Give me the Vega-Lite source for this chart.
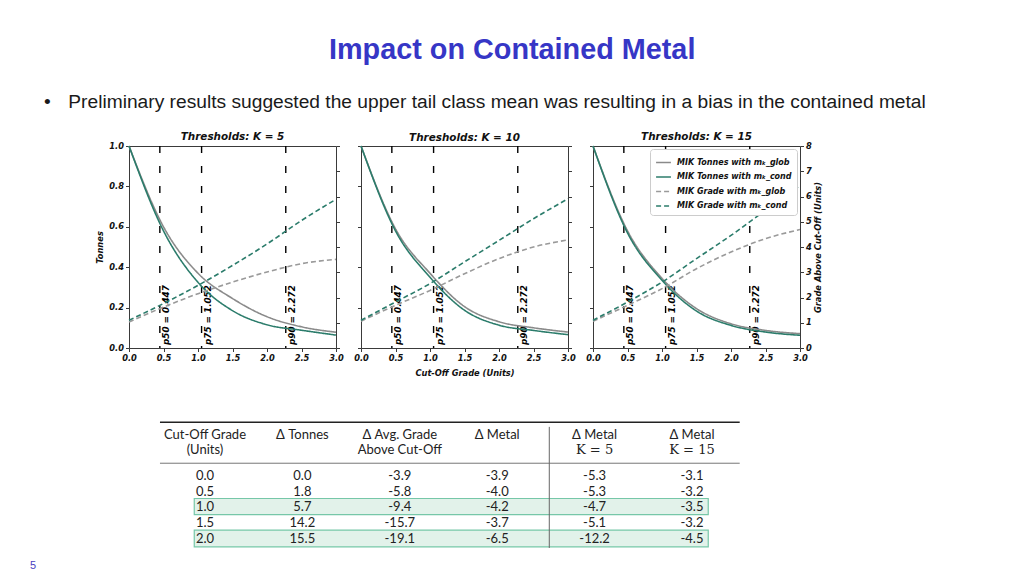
{
  "$schema": "https://vega.github.io/schema/vega-lite/v6.json",
  "autosize": {"type": "none"},
  "padding": {"left": 129, "top": 146, "right": 895, "bottom": 430},
  "background": "white",
  "title": {"text": "Impact on Contained Metal", "anchor": "start", "frame": "group", "dx": 200, "font": "Liberation Sans", "fontSize": 28.8, "fontWeight": "bold", "fontStyle": "normal", "color": "#3636c6", "offset": 28},
  "datasets": {
    "thr": [
      {"x": 0.447, "label": "p50 = 0.447"},
      {"x": 1.052, "label": "p75 = 1.052"},
      {"x": 2.272, "label": "p90 = 2.272"}
    ],
    "curves": [
      {"k": 5, "m": "Tonnes", "s": "MIK Tonnes with mₖ_glob", "x": 0, "v": 1.0},
      {"k": 5, "m": "Tonnes", "s": "MIK Tonnes with mₖ_glob", "x": 0.5, "v": 0.6},
      {"k": 5, "m": "Tonnes", "s": "MIK Tonnes with mₖ_glob", "x": 1.0, "v": 0.37},
      {"k": 5, "m": "Tonnes", "s": "MIK Tonnes with mₖ_glob", "x": 1.5, "v": 0.245},
      {"k": 5, "m": "Tonnes", "s": "MIK Tonnes with mₖ_glob", "x": 2.0, "v": 0.155},
      {"k": 5, "m": "Tonnes", "s": "MIK Tonnes with mₖ_glob", "x": 2.5, "v": 0.105},
      {"k": 5, "m": "Tonnes", "s": "MIK Tonnes with mₖ_glob", "x": 3.0, "v": 0.078},
      {"k": 5, "m": "Tonnes", "s": "MIK Tonnes with mₖ_cond", "x": 0, "v": 1.0},
      {"k": 5, "m": "Tonnes", "s": "MIK Tonnes with mₖ_cond", "x": 0.5, "v": 0.58},
      {"k": 5, "m": "Tonnes", "s": "MIK Tonnes with mₖ_cond", "x": 1.0, "v": 0.325},
      {"k": 5, "m": "Tonnes", "s": "MIK Tonnes with mₖ_cond", "x": 1.5, "v": 0.185},
      {"k": 5, "m": "Tonnes", "s": "MIK Tonnes with mₖ_cond", "x": 2.0, "v": 0.115},
      {"k": 5, "m": "Tonnes", "s": "MIK Tonnes with mₖ_cond", "x": 2.5, "v": 0.088},
      {"k": 5, "m": "Tonnes", "s": "MIK Tonnes with mₖ_cond", "x": 3.0, "v": 0.064},
      {"k": 5, "m": "Grade", "s": "MIK Grade with mₖ_glob", "x": 0, "v": 1.03},
      {"k": 5, "m": "Grade", "s": "MIK Grade with mₖ_glob", "x": 0.5, "v": 1.62},
      {"k": 5, "m": "Grade", "s": "MIK Grade with mₖ_glob", "x": 1.0, "v": 2.15},
      {"k": 5, "m": "Grade", "s": "MIK Grade with mₖ_glob", "x": 1.5, "v": 2.61},
      {"k": 5, "m": "Grade", "s": "MIK Grade with mₖ_glob", "x": 2.0, "v": 3.01},
      {"k": 5, "m": "Grade", "s": "MIK Grade with mₖ_glob", "x": 2.5, "v": 3.34},
      {"k": 5, "m": "Grade", "s": "MIK Grade with mₖ_glob", "x": 3.0, "v": 3.51},
      {"k": 5, "m": "Grade", "s": "MIK Grade with mₖ_cond", "x": 0, "v": 1.1},
      {"k": 5, "m": "Grade", "s": "MIK Grade with mₖ_cond", "x": 0.5, "v": 1.76},
      {"k": 5, "m": "Grade", "s": "MIK Grade with mₖ_cond", "x": 1.0, "v": 2.48},
      {"k": 5, "m": "Grade", "s": "MIK Grade with mₖ_cond", "x": 1.5, "v": 3.27},
      {"k": 5, "m": "Grade", "s": "MIK Grade with mₖ_cond", "x": 2.0, "v": 4.12},
      {"k": 5, "m": "Grade", "s": "MIK Grade with mₖ_cond", "x": 2.5, "v": 5.05},
      {"k": 5, "m": "Grade", "s": "MIK Grade with mₖ_cond", "x": 3.0, "v": 5.89},
      {"k": 10, "m": "Tonnes", "s": "MIK Tonnes with mₖ_glob", "x": 0, "v": 1.0},
      {"k": 10, "m": "Tonnes", "s": "MIK Tonnes with mₖ_glob", "x": 0.5, "v": 0.59},
      {"k": 10, "m": "Tonnes", "s": "MIK Tonnes with mₖ_glob", "x": 1.0, "v": 0.37},
      {"k": 10, "m": "Tonnes", "s": "MIK Tonnes with mₖ_glob", "x": 1.5, "v": 0.205},
      {"k": 10, "m": "Tonnes", "s": "MIK Tonnes with mₖ_glob", "x": 2.0, "v": 0.13},
      {"k": 10, "m": "Tonnes", "s": "MIK Tonnes with mₖ_glob", "x": 2.5, "v": 0.1},
      {"k": 10, "m": "Tonnes", "s": "MIK Tonnes with mₖ_glob", "x": 3.0, "v": 0.079},
      {"k": 10, "m": "Tonnes", "s": "MIK Tonnes with mₖ_cond", "x": 0, "v": 1.0},
      {"k": 10, "m": "Tonnes", "s": "MIK Tonnes with mₖ_cond", "x": 0.5, "v": 0.58},
      {"k": 10, "m": "Tonnes", "s": "MIK Tonnes with mₖ_cond", "x": 1.0, "v": 0.35},
      {"k": 10, "m": "Tonnes", "s": "MIK Tonnes with mₖ_cond", "x": 1.5, "v": 0.187},
      {"k": 10, "m": "Tonnes", "s": "MIK Tonnes with mₖ_cond", "x": 2.0, "v": 0.113},
      {"k": 10, "m": "Tonnes", "s": "MIK Tonnes with mₖ_cond", "x": 2.5, "v": 0.087},
      {"k": 10, "m": "Tonnes", "s": "MIK Tonnes with mₖ_cond", "x": 3.0, "v": 0.066},
      {"k": 10, "m": "Grade", "s": "MIK Grade with mₖ_glob", "x": 0, "v": 1.06},
      {"k": 10, "m": "Grade", "s": "MIK Grade with mₖ_glob", "x": 0.5, "v": 1.69},
      {"k": 10, "m": "Grade", "s": "MIK Grade with mₖ_glob", "x": 1.0, "v": 2.28},
      {"k": 10, "m": "Grade", "s": "MIK Grade with mₖ_glob", "x": 1.5, "v": 2.94},
      {"k": 10, "m": "Grade", "s": "MIK Grade with mₖ_glob", "x": 2.0, "v": 3.54},
      {"k": 10, "m": "Grade", "s": "MIK Grade with mₖ_glob", "x": 2.5, "v": 4.0},
      {"k": 10, "m": "Grade", "s": "MIK Grade with mₖ_glob", "x": 3.0, "v": 4.28},
      {"k": 10, "m": "Grade", "s": "MIK Grade with mₖ_cond", "x": 0, "v": 1.1},
      {"k": 10, "m": "Grade", "s": "MIK Grade with mₖ_cond", "x": 0.5, "v": 1.82},
      {"k": 10, "m": "Grade", "s": "MIK Grade with mₖ_cond", "x": 1.0, "v": 2.55},
      {"k": 10, "m": "Grade", "s": "MIK Grade with mₖ_cond", "x": 1.5, "v": 3.41},
      {"k": 10, "m": "Grade", "s": "MIK Grade with mₖ_cond", "x": 2.0, "v": 4.26},
      {"k": 10, "m": "Grade", "s": "MIK Grade with mₖ_cond", "x": 2.5, "v": 5.12},
      {"k": 10, "m": "Grade", "s": "MIK Grade with mₖ_cond", "x": 3.0, "v": 5.91},
      {"k": 15, "m": "Tonnes", "s": "MIK Tonnes with mₖ_glob", "x": 0, "v": 1.0},
      {"k": 15, "m": "Tonnes", "s": "MIK Tonnes with mₖ_glob", "x": 0.5, "v": 0.58},
      {"k": 15, "m": "Tonnes", "s": "MIK Tonnes with mₖ_glob", "x": 1.0, "v": 0.345},
      {"k": 15, "m": "Tonnes", "s": "MIK Tonnes with mₖ_glob", "x": 1.5, "v": 0.195},
      {"k": 15, "m": "Tonnes", "s": "MIK Tonnes with mₖ_glob", "x": 2.0, "v": 0.12},
      {"k": 15, "m": "Tonnes", "s": "MIK Tonnes with mₖ_glob", "x": 2.5, "v": 0.087},
      {"k": 15, "m": "Tonnes", "s": "MIK Tonnes with mₖ_glob", "x": 3.0, "v": 0.071},
      {"k": 15, "m": "Tonnes", "s": "MIK Tonnes with mₖ_cond", "x": 0, "v": 1.0},
      {"k": 15, "m": "Tonnes", "s": "MIK Tonnes with mₖ_cond", "x": 0.5, "v": 0.57},
      {"k": 15, "m": "Tonnes", "s": "MIK Tonnes with mₖ_cond", "x": 1.0, "v": 0.335},
      {"k": 15, "m": "Tonnes", "s": "MIK Tonnes with mₖ_cond", "x": 1.5, "v": 0.183},
      {"k": 15, "m": "Tonnes", "s": "MIK Tonnes with mₖ_cond", "x": 2.0, "v": 0.112},
      {"k": 15, "m": "Tonnes", "s": "MIK Tonnes with mₖ_cond", "x": 2.5, "v": 0.079},
      {"k": 15, "m": "Tonnes", "s": "MIK Tonnes with mₖ_cond", "x": 3.0, "v": 0.063},
      {"k": 15, "m": "Grade", "s": "MIK Grade with mₖ_glob", "x": 0, "v": 1.06},
      {"k": 15, "m": "Grade", "s": "MIK Grade with mₖ_glob", "x": 0.5, "v": 1.69},
      {"k": 15, "m": "Grade", "s": "MIK Grade with mₖ_glob", "x": 1.0, "v": 2.35},
      {"k": 15, "m": "Grade", "s": "MIK Grade with mₖ_glob", "x": 1.5, "v": 3.14},
      {"k": 15, "m": "Grade", "s": "MIK Grade with mₖ_glob", "x": 2.0, "v": 3.8},
      {"k": 15, "m": "Grade", "s": "MIK Grade with mₖ_glob", "x": 2.5, "v": 4.33},
      {"k": 15, "m": "Grade", "s": "MIK Grade with mₖ_glob", "x": 3.0, "v": 4.69},
      {"k": 15, "m": "Grade", "s": "MIK Grade with mₖ_cond", "x": 0, "v": 1.1},
      {"k": 15, "m": "Grade", "s": "MIK Grade with mₖ_cond", "x": 0.5, "v": 1.82},
      {"k": 15, "m": "Grade", "s": "MIK Grade with mₖ_cond", "x": 1.0, "v": 2.61},
      {"k": 15, "m": "Grade", "s": "MIK Grade with mₖ_cond", "x": 1.5, "v": 3.54},
      {"k": 15, "m": "Grade", "s": "MIK Grade with mₖ_cond", "x": 2.0, "v": 4.46},
      {"k": 15, "m": "Grade", "s": "MIK Grade with mₖ_cond", "x": 2.5, "v": 5.45},
      {"k": 15, "m": "Grade", "s": "MIK Grade with mₖ_cond", "x": 3.0, "v": 6.44}
    ],
    "thead": [
      {"col": 0, "line": 1, "text": "Cut-Off Grade"},
      {"col": 0, "line": 2, "text": "(Units)"},
      {"col": 1, "line": 1, "text": "Δ Tonnes"},
      {"col": 2, "line": 1, "text": "Δ Avg. Grade"},
      {"col": 2, "line": 2, "text": "Above Cut-Off"},
      {"col": 3, "line": 1, "text": "Δ Metal"},
      {"col": 4, "line": 1, "text": "Δ Metal"},
      {"col": 4, "line": 2, "text": "K = 5"},
      {"col": 5, "line": 1, "text": "Δ Metal"},
      {"col": 5, "line": 2, "text": "K = 15"}
    ],
    "tcells": [
      {"row": 0, "col": 0, "text": "0.0"}, {"row": 0, "col": 1, "text": "0.0"}, {"row": 0, "col": 2, "text": "-3.9"}, {"row": 0, "col": 3, "text": "-3.9"}, {"row": 0, "col": 4, "text": "-5.3"}, {"row": 0, "col": 5, "text": "-3.1"},
      {"row": 1, "col": 0, "text": "0.5"}, {"row": 1, "col": 1, "text": "1.8"}, {"row": 1, "col": 2, "text": "-5.8"}, {"row": 1, "col": 3, "text": "-4.0"}, {"row": 1, "col": 4, "text": "-5.3"}, {"row": 1, "col": 5, "text": "-3.2"},
      {"row": 2, "col": 0, "text": "1.0"}, {"row": 2, "col": 1, "text": "5.7"}, {"row": 2, "col": 2, "text": "-9.4"}, {"row": 2, "col": 3, "text": "-4.2"}, {"row": 2, "col": 4, "text": "-4.7"}, {"row": 2, "col": 5, "text": "-3.5"},
      {"row": 3, "col": 0, "text": "1.5"}, {"row": 3, "col": 1, "text": "14.2"}, {"row": 3, "col": 2, "text": "-15.7"}, {"row": 3, "col": 3, "text": "-3.7"}, {"row": 3, "col": 4, "text": "-5.1"}, {"row": 3, "col": 5, "text": "-3.2"},
      {"row": 4, "col": 0, "text": "2.0"}, {"row": 4, "col": 1, "text": "15.5"}, {"row": 4, "col": 2, "text": "-19.1"}, {"row": 4, "col": 3, "text": "-6.5"}, {"row": 4, "col": 4, "text": "-12.2"}, {"row": 4, "col": 5, "text": "-4.5"}
    ]
  },
  "bounds": "flush",
  "spacing": 274,
  "vconcat": [
    {
      "title": {"text": "•\u00a0\u00a0\u00a0\u200aPreliminary results suggested the upper tail class mean was resulting in a bias in the contained metal", "anchor": "start", "frame": "group", "dx": -85, "font": "Liberation Sans", "fontSize": 19.2, "fontWeight": "normal", "fontStyle": "normal", "color": "#1a1a1a", "offset": 19},
      "bounds": "flush",
      "spacing": 25,
      "resolve": {"scale": {"color": "independent", "strokeDash": "independent"}},
      "hconcat": [
        {
          "width": 207, "height": 202,
          "title": {"text": "Thresholds: K = 5"},
          "encoding": {"x": {"field": "x", "type": "quantitative", "scale": {"domain": [0, 3], "nice": false, "zero": false}, "axis": {"values": [0, 0.5, 1, 1.5, 2, 2.5, 3], "format": ".1f", "title": null, "labelFlush": false}}},
          "layer": [
            {"layer": [
              {"data": {"name": "thr"}, "mark": {"type": "rule", "color": "#000", "strokeWidth": 1.4, "strokeDash": [7, 13]}, "encoding": {}},
              {"data": {"name": "thr"}, "mark": {"type": "text", "angle": 270, "align": "left", "baseline": "top", "dx": 3, "dy": 2, "font": "DejaVu Sans", "fontStyle": "italic", "fontWeight": "bold", "fontSize": 8.8, "color": "#000"}, "encoding": {"y": {"datum": 0, "type": "quantitative"}, "text": {"field": "label"}}},
              {"data": {"name": "curves"}, "transform": [{"filter": "datum.k == 5 && datum.m == 'Tonnes'"}], "mark": {"type": "line", "strokeWidth": 1.6, "interpolate": "monotone"},
               "encoding": {
                 "y": {"field": "v", "type": "quantitative", "scale": {"domain": [0, 1], "nice": false}, "axis": {"values": [0, 0.2, 0.4, 0.6, 0.8, 1], "format": ".1f", "title": "Tonnes", "titlePadding": 4}},
                 "color": {"field": "s", "type": "nominal", "legend": null, "scale": {"domain": ["MIK Tonnes with mₖ_glob", "MIK Tonnes with mₖ_cond", "MIK Grade with mₖ_glob", "MIK Grade with mₖ_cond"], "range": ["#8a8a8a", "#2b7c6b", "#9a9a9a", "#2b7c6b"]}},
                 "strokeDash": {"field": "s", "type": "nominal", "legend": null, "scale": {"domain": ["MIK Tonnes with mₖ_glob", "MIK Tonnes with mₖ_cond", "MIK Grade with mₖ_glob", "MIK Grade with mₖ_cond"], "range": [[1, 0], [1, 0], [5, 3], [5, 3]]}}
               }}
            ]},
            {"data": {"name": "curves"}, "transform": [{"filter": "datum.k == 5 && datum.m == 'Grade'"}], "mark": {"type": "line", "strokeWidth": 1.6, "interpolate": "monotone"},
             "encoding": {
               "y": {"field": "v", "type": "quantitative", "scale": {"domain": [0, 8], "nice": false}, "axis": {"orient": "right", "values": [0, 1, 2, 3, 4, 5, 6, 7, 8], "labels": false, "title": null}},
               "color": {"field": "s", "type": "nominal", "legend": null, "scale": {"domain": ["MIK Tonnes with mₖ_glob", "MIK Tonnes with mₖ_cond", "MIK Grade with mₖ_glob", "MIK Grade with mₖ_cond"], "range": ["#8a8a8a", "#2b7c6b", "#9a9a9a", "#2b7c6b"]}},
               "strokeDash": {"field": "s", "type": "nominal", "legend": null, "scale": {"domain": ["MIK Tonnes with mₖ_glob", "MIK Tonnes with mₖ_cond", "MIK Grade with mₖ_glob", "MIK Grade with mₖ_cond"], "range": [[1, 0], [1, 0], [5, 3], [5, 3]]}}
             }}
          ],
          "resolve": {"scale": {"y": "independent"}}
        },
        {
          "width": 207, "height": 202,
          "title": {"text": "Thresholds: K = 10"},
          "encoding": {"x": {"field": "x", "type": "quantitative", "scale": {"domain": [0, 3], "nice": false, "zero": false}, "axis": {"values": [0, 0.5, 1, 1.5, 2, 2.5, 3], "format": ".1f", "title": "Cut-Off Grade (Units)", "titlePadding": 7, "labelFlush": false}}},
          "layer": [
            {"layer": [
              {"data": {"name": "thr"}, "mark": {"type": "rule", "color": "#000", "strokeWidth": 1.4, "strokeDash": [7, 13]}, "encoding": {}},
              {"data": {"name": "thr"}, "mark": {"type": "text", "angle": 270, "align": "left", "baseline": "top", "dx": 3, "dy": 2, "font": "DejaVu Sans", "fontStyle": "italic", "fontWeight": "bold", "fontSize": 8.8, "color": "#000"}, "encoding": {"y": {"datum": 0, "type": "quantitative"}, "text": {"field": "label"}}},
              {"data": {"name": "curves"}, "transform": [{"filter": "datum.k == 10 && datum.m == 'Tonnes'"}], "mark": {"type": "line", "strokeWidth": 1.6, "interpolate": "monotone"},
               "encoding": {
                 "y": {"field": "v", "type": "quantitative", "scale": {"domain": [0, 1], "nice": false}, "axis": {"values": [0, 0.2, 0.4, 0.6, 0.8, 1], "labels": false, "title": null}},
                 "color": {"field": "s", "type": "nominal", "legend": null, "scale": {"domain": ["MIK Tonnes with mₖ_glob", "MIK Tonnes with mₖ_cond", "MIK Grade with mₖ_glob", "MIK Grade with mₖ_cond"], "range": ["#8a8a8a", "#2b7c6b", "#9a9a9a", "#2b7c6b"]}},
                 "strokeDash": {"field": "s", "type": "nominal", "legend": null, "scale": {"domain": ["MIK Tonnes with mₖ_glob", "MIK Tonnes with mₖ_cond", "MIK Grade with mₖ_glob", "MIK Grade with mₖ_cond"], "range": [[1, 0], [1, 0], [5, 3], [5, 3]]}}
               }}
            ]},
            {"data": {"name": "curves"}, "transform": [{"filter": "datum.k == 10 && datum.m == 'Grade'"}], "mark": {"type": "line", "strokeWidth": 1.6, "interpolate": "monotone"},
             "encoding": {
               "y": {"field": "v", "type": "quantitative", "scale": {"domain": [0, 8], "nice": false}, "axis": {"orient": "right", "values": [0, 1, 2, 3, 4, 5, 6, 7, 8], "labels": false, "title": null}},
               "color": {"field": "s", "type": "nominal", "legend": null, "scale": {"domain": ["MIK Tonnes with mₖ_glob", "MIK Tonnes with mₖ_cond", "MIK Grade with mₖ_glob", "MIK Grade with mₖ_cond"], "range": ["#8a8a8a", "#2b7c6b", "#9a9a9a", "#2b7c6b"]}},
               "strokeDash": {"field": "s", "type": "nominal", "legend": null, "scale": {"domain": ["MIK Tonnes with mₖ_glob", "MIK Tonnes with mₖ_cond", "MIK Grade with mₖ_glob", "MIK Grade with mₖ_cond"], "range": [[1, 0], [1, 0], [5, 3], [5, 3]]}}
             }}
          ],
          "resolve": {"scale": {"y": "independent"}}
        },
        {
          "width": 207, "height": 202,
          "title": {"text": "Thresholds: K = 15"},
          "encoding": {"x": {"field": "x", "type": "quantitative", "scale": {"domain": [0, 3], "nice": false, "zero": false}, "axis": {"values": [0, 0.5, 1, 1.5, 2, 2.5, 3], "format": ".1f", "title": null, "labelFlush": false}}},
          "layer": [
            {"layer": [
              {"data": {"name": "thr"}, "mark": {"type": "rule", "color": "#000", "strokeWidth": 1.4, "strokeDash": [7, 13]}, "encoding": {}},
              {"data": {"name": "thr"}, "mark": {"type": "text", "angle": 270, "align": "left", "baseline": "top", "dx": 3, "dy": 2, "font": "DejaVu Sans", "fontStyle": "italic", "fontWeight": "bold", "fontSize": 8.8, "color": "#000"}, "encoding": {"y": {"datum": 0, "type": "quantitative"}, "text": {"field": "label"}}},
              {"data": {"name": "curves"}, "transform": [{"filter": "datum.k == 15 && datum.m == 'Tonnes'"}], "mark": {"type": "line", "strokeWidth": 1.6, "interpolate": "monotone"},
               "encoding": {
                 "y": {"field": "v", "type": "quantitative", "scale": {"domain": [0, 1], "nice": false}, "axis": {"values": [0, 0.2, 0.4, 0.6, 0.8, 1], "labels": false, "title": null}},
                 "color": {"field": "s", "type": "nominal", "legend": {"title": null, "orient": "top-right", "offset": 3}, "scale": {"domain": ["MIK Tonnes with mₖ_glob", "MIK Tonnes with mₖ_cond", "MIK Grade with mₖ_glob", "MIK Grade with mₖ_cond"], "range": ["#8a8a8a", "#2b7c6b", "#9a9a9a", "#2b7c6b"]}},
                 "strokeDash": {"field": "s", "type": "nominal", "legend": {"title": null, "orient": "top-right", "offset": 3}, "scale": {"domain": ["MIK Tonnes with mₖ_glob", "MIK Tonnes with mₖ_cond", "MIK Grade with mₖ_glob", "MIK Grade with mₖ_cond"], "range": [[1, 0], [1, 0], [5, 3], [5, 3]]}}
               }}
            ]},
            {"data": {"name": "curves"}, "transform": [{"filter": "datum.k == 15 && datum.m == 'Grade'"}], "mark": {"type": "line", "strokeWidth": 1.6, "interpolate": "monotone"},
             "encoding": {
               "y": {"field": "v", "type": "quantitative", "scale": {"domain": [0, 8], "nice": false}, "axis": {"orient": "right", "values": [0, 1, 2, 3, 4, 5, 6, 7, 8], "format": "d", "title": "Grade Above Cut-Off (Units)", "titleAngle": 270, "titlePadding": 11}},
               "color": {"field": "s", "type": "nominal", "legend": {"title": null, "orient": "top-right", "offset": 3}, "scale": {"domain": ["MIK Tonnes with mₖ_glob", "MIK Tonnes with mₖ_cond", "MIK Grade with mₖ_glob", "MIK Grade with mₖ_cond"], "range": ["#8a8a8a", "#2b7c6b", "#9a9a9a", "#2b7c6b"]}},
               "strokeDash": {"field": "s", "type": "nominal", "legend": {"title": null, "orient": "top-right", "offset": 3}, "scale": {"domain": ["MIK Tonnes with mₖ_glob", "MIK Tonnes with mₖ_cond", "MIK Grade with mₖ_glob", "MIK Grade with mₖ_cond"], "range": [[1, 0], [1, 0], [5, 3], [5, 3]]}}
             }}
          ],
          "resolve": {"scale": {"y": "independent"}}
        }
      ]
    },
    {
      "width": 611, "height": 132,
      "view": {"stroke": null},
      "title": {"text": "5", "orient": "bottom", "anchor": "start", "frame": "group", "dx": -99, "offset": 8, "font": "Liberation Sans", "fontSize": 11, "fontWeight": "normal", "fontStyle": "normal", "color": "#4b3fbf"},
      "layer": [
        {"data": {"values": [{}]}, "mark": {"type": "rect", "fill": "#e2f2ea", "stroke": "#76c7a8", "strokeWidth": 1.2}, "encoding": {"x": {"datum": -0.11, "type": "quantitative", "scale": {"domain": [-0.78, 5.493], "nice": false, "zero": false}, "axis": null}, "x2": {"datum": 5.167}, "y": {"datum": 1.43, "type": "quantitative", "scale": {"domain": [-3.6, 4.86], "nice": false, "zero": false, "reverse": true}, "axis": null}, "y2": {"datum": 2.46}}},
        {"data": {"values": [{}]}, "mark": {"type": "rect", "fill": "#e2f2ea", "stroke": "#76c7a8", "strokeWidth": 1.2}, "encoding": {"x": {"datum": -0.11, "type": "quantitative", "scale": {"domain": [-0.78, 5.493], "nice": false, "zero": false}, "axis": null}, "x2": {"datum": 5.167}, "y": {"datum": 3.46, "type": "quantitative", "scale": {"domain": [-3.6, 4.86], "nice": false, "zero": false, "reverse": true}, "axis": null}, "y2": {"datum": 4.53}}},
        {"data": {"values": [{}]}, "mark": {"type": "rule", "color": "#222", "strokeWidth": 1.5}, "encoding": {"x": {"datum": -0.462, "type": "quantitative", "scale": {"domain": [-0.78, 5.493], "nice": false, "zero": false}, "axis": null}, "x2": {"datum": 5.49}, "y": {"datum": -3.46, "type": "quantitative", "scale": {"domain": [-3.6, 4.86], "nice": false, "zero": false, "reverse": true}, "axis": null}}},
        {"data": {"values": [{}]}, "mark": {"type": "rule", "color": "#777", "strokeWidth": 1}, "encoding": {"x": {"datum": -0.462, "type": "quantitative", "scale": {"domain": [-0.78, 5.493], "nice": false, "zero": false}, "axis": null}, "x2": {"datum": 5.49}, "y": {"datum": -0.83, "type": "quantitative", "scale": {"domain": [-3.6, 4.86], "nice": false, "zero": false, "reverse": true}, "axis": null}}},
        {"data": {"values": [{}]}, "mark": {"type": "rule", "color": "#666", "strokeWidth": 1}, "encoding": {"x": {"datum": 3.535, "type": "quantitative", "scale": {"domain": [-0.78, 5.493], "nice": false, "zero": false}, "axis": null}, "y": {"datum": -3.16, "type": "quantitative", "scale": {"domain": [-3.6, 4.86], "nice": false, "zero": false, "reverse": true}, "axis": null}, "y2": {"datum": 4.6}}},
        {"data": {"name": "thead"}, "transform": [{"filter": "datum.line == 1"}], "mark": {"type": "text", "font": "Lato", "fontSize": 13, "color": "#222", "align": "center", "baseline": "middle"}, "encoding": {"x": {"field": "col", "type": "quantitative", "scale": {"domain": [-0.78, 5.493], "nice": false, "zero": false}, "axis": null}, "y": {"datum": -2.63, "type": "quantitative", "scale": {"domain": [-3.6, 4.86], "nice": false, "zero": false, "reverse": true}, "axis": null}, "text": {"field": "text"}}},
        {"data": {"name": "thead"}, "transform": [{"filter": "datum.line == 2 && datum.col < 4"}], "mark": {"type": "text", "font": "Lato", "fontSize": 13, "color": "#222", "align": "center", "baseline": "middle"}, "encoding": {"x": {"field": "col", "type": "quantitative", "scale": {"domain": [-0.78, 5.493], "nice": false, "zero": false}, "axis": null}, "y": {"datum": -1.67, "type": "quantitative", "scale": {"domain": [-3.6, 4.86], "nice": false, "zero": false, "reverse": true}, "axis": null}, "text": {"field": "text"}}},
        {"data": {"name": "thead"}, "transform": [{"filter": "datum.line == 2 && datum.col >= 4"}], "mark": {"type": "text", "font": "DejaVu Serif", "fontSize": 13, "color": "#222", "align": "center", "baseline": "middle"}, "encoding": {"x": {"field": "col", "type": "quantitative", "scale": {"domain": [-0.78, 5.493], "nice": false, "zero": false}, "axis": null}, "y": {"datum": -1.67, "type": "quantitative", "scale": {"domain": [-3.6, 4.86], "nice": false, "zero": false, "reverse": true}, "axis": null}, "text": {"field": "text"}}},
        {"data": {"name": "tcells"}, "mark": {"type": "text", "font": "Lato", "fontSize": 13, "color": "#222", "align": "center", "baseline": "middle"}, "encoding": {"x": {"field": "col", "type": "quantitative", "scale": {"domain": [-0.78, 5.493], "nice": false, "zero": false}, "axis": null}, "y": {"field": "row", "type": "quantitative", "scale": {"domain": [-3.6, 4.86], "nice": false, "zero": false, "reverse": true}, "axis": null}, "text": {"field": "text"}}}
      ]
    }
  ],
  "config": {
    "view": {"stroke": "#3a3a3a", "strokeWidth": 1},
    "axis": {"grid": false, "domain": false, "labelFont": "DejaVu Sans", "labelFontStyle": "italic", "labelFontWeight": "bold", "labelFontSize": 8.3, "labelColor": "#111", "titleFont": "DejaVu Sans", "titleFontStyle": "italic", "titleFontWeight": "bold", "titleFontSize": 8.3, "titleColor": "#111", "tickColor": "#3a3a3a", "tickSize": 3.5, "labelPadding": 2},
    "legend": {"symbolType": "stroke", "symbolSize": 220, "symbolStrokeWidth": 1.5, "labelFont": "DejaVu Sans", "labelFontStyle": "italic", "labelFontWeight": "bold", "labelFontSize": 8, "labelColor": "#111", "fillColor": "#ffffff", "strokeColor": "#cccccc", "cornerRadius": 3, "padding": 5, "rowPadding": 1.5, "labelOffset": 5},
    "title": {"font": "DejaVu Sans", "fontStyle": "italic", "fontWeight": "bold", "fontSize": 10.4, "color": "#111", "offset": -1}
  }
}
